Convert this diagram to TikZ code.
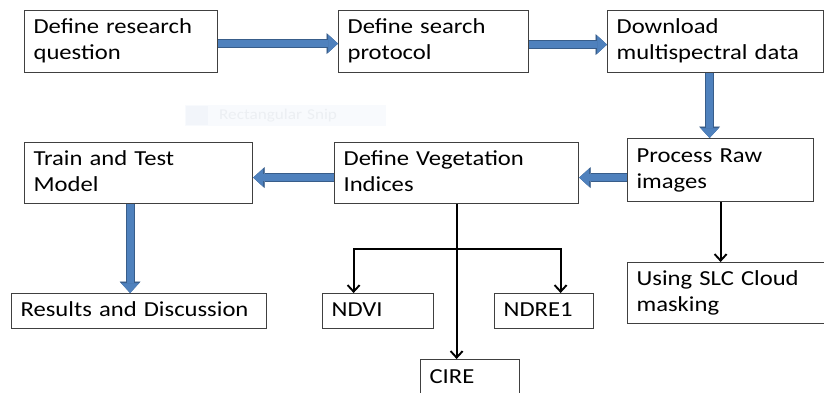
\documentclass[tikz,border=0pt]{standalone}
\usepackage{fontspec}
\setmainfont[FakeStretch=1.15]{Carlito}
\usetikzlibrary{arrows.meta}

\definecolor{boxline}{HTML}{404040}
\definecolor{flowfill}{HTML}{4F81BD}
\definecolor{flowedge}{HTML}{385D8A}
\definecolor{snipback}{HTML}{F8FAFD}
\definecolor{snipicon}{HTML}{F2F5FA}
\definecolor{sniptext}{HTML}{ECEFF3}

\tikzset{
    stage/.style = {
        draw=boxline,
        line width=1.2bp,
        fill=white,
        anchor=north west,
        align=left,
        inner xsep=9bp,
        inner ysep=0bp,
        font=\fontsize{21.5}{26}\selectfont,
        execute at begin node=\strut,
        execute at end node=\strut
    },
    flow/.style = {
        draw=flowfill,
        line width=7bp,
        -{Triangle[length=10bp,width=18bp,line width=0.5bp,fill=flowfill]},
        preaction={draw=flowedge, line width=9bp,
            -{Triangle[length=11.5bp,width=21bp,line width=0.5bp,fill=flowedge]}}
    },
    branch/.style = {
        line width=1.9bp,
        -{Straight Barb[length=6.5bp,width=12bp]}
    },
    snipbox/.style = {
        fill=snipback,
        text=sniptext,
        anchor=north west,
        align=left,
        inner xsep=0bp,
        font=\fontsize{15}{18}\selectfont
    }
}

\begin{document}
\begin{tikzpicture}[x=1bp, y=-1bp]
    \path[use as bounding box] (0,0) rectangle (824,392);
    \clip (0,0) rectangle (824,392);

    % Leftover of the screen capture
    \node[snipbox, text width=201bp, minimum height=21bp] (snip) at (185,105) {\hspace*{34bp}Rectangular Snip};
    \fill[snipicon] ([shift={(1,1)}]snip.north west) rectangle ++(22,19);

    % Draw all boxes
    \node[stage, text width=175bp, minimum height=62bp] (question) at (24,10)  {Define research\\question};
    \node[stage, text width=172bp, minimum height=62bp] (protocol) at (338,10) {Define search\\protocol};
    \node[stage, text width=198bp, minimum height=62bp] (download) at (607,10) {Download\\multispectral data};
    \node[stage, text width=168bp, minimum height=63bp] (process)  at (627,138) {Process Raw\\images};
    \node[stage, text width=226bp, minimum height=61bp] (indices)  at (334,142) {Define Vegetation\\Indices};
    \node[stage, text width=210bp, minimum height=61bp] (model)    at (24,142) {Train and Test\\Model};
    \node[stage, text width=237bp, minimum height=35bp] (results)  at (11,293) {Results and Discussion};
    \node[stage, text width=93bp,  minimum height=35bp] (ndvi)     at (322,293) {NDVI};
    \node[stage, text width=81bp,  minimum height=35bp] (ndre)     at (494,293) {NDRE1};
    \node[stage, text width=81bp,  minimum height=38bp] (cire)     at (420,359) {CIRE};
    \node[stage, text width=192bp, minimum height=61bp] (cloud)    at (627,262) {Using SLC Cloud\\masking};

    % Draw main flow
    \draw[flow] ([yshift=-2bp]question.east) -- ([yshift=-2bp]question.east -| protocol.west);
    \draw[flow] ([yshift=-3bp]protocol.east) -- ([yshift=-3bp]protocol.east -| download.west);
    \draw[flow] ([xshift=-6bp]download.south) -- ([xshift=-6bp]download.south |- process.north);
    \draw[flow] ([yshift=-7.5bp]process.west) -- ([yshift=-7.5bp]process.west -| indices.east);
    \draw[flow] ([yshift=-4.5bp]indices.west) -- ([yshift=-4.5bp]indices.west -| model.east);
    \draw[flow] ([xshift=-8.5bp]model.south) -- ([xshift=-8.5bp]model.south |- results.north);

    % Draw branches
    \coordinate (split) at ([yshift=-45bp]indices.south);
    \draw[branch] (indices.south) -- (indices.south |- cire.north);
    \draw[branch] (split) -| ([xshift=-24.5bp]ndvi.north);
    \draw[branch] (split) -| ([xshift=16.5bp]ndre.north);
    \draw[branch] (process.south) -- (process.south |- cloud.north);
\end{tikzpicture}
\end{document}
